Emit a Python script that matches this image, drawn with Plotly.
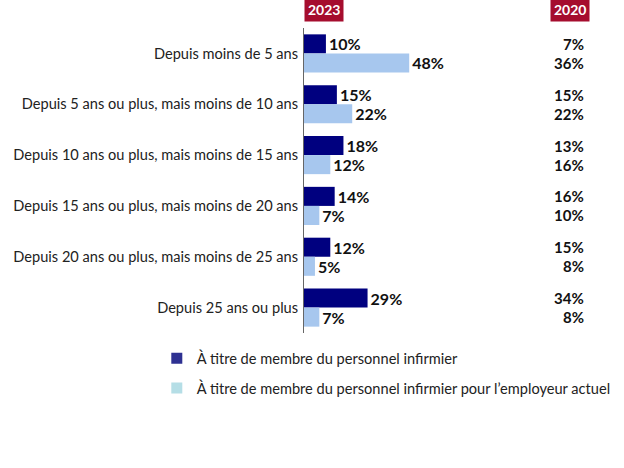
import plotly.graph_objects as go

categories = [
    "Depuis moins de 5 ans",
    "Depuis 5 ans ou plus, mais moins de 10 ans",
    "Depuis 10 ans ou plus, mais moins de 15 ans",
    "Depuis 15 ans ou plus, mais moins de 20 ans",
    "Depuis 20 ans ou plus, mais moins de 25 ans",
    "Depuis 25 ans ou plus",
]
nursing_2023 = [10, 15, 18, 14, 12, 29]
employer_2023 = [48, 22, 12, 7, 5, 7]
nursing_2020 = [7, 15, 13, 16, 15, 34]
employer_2020 = [36, 22, 16, 10, 8, 8]
series_names = [
    "À titre de membre du personnel infirmier",
    "À titre de membre du personnel infirmier pour l’employeur actuel",
]
year_labels = ["2023", "2020"]

DARK = "#00007F"
LIGHT = "#A7C7EE"
LEG_DARK = "#2E3192"
LEG_LIGHT = "#B5DEE6"
CRIMSON = "#A50D2E"
FONT = "Lato"

fig = go.Figure()
for vals, col in [(nursing_2023, DARK), (employer_2023, LIGHT)]:
    fig.add_trace(go.Bar(
        y=categories, x=vals, orientation="h",
        marker=dict(color=col, line=dict(width=0)),
        text=[f"<b>{v}%</b>" for v in vals], textposition="outside",
        textfont=dict(family=FONT, size=16, color="#111"),
        constraintext="none",
        cliponaxis=False, showlegend=False, hoverinfo="skip",
    ))

# legend-only entries
for i, (name, col) in enumerate(zip(series_names, [LEG_DARK, LEG_LIGHT])):
    fig.add_trace(go.Scatter(
        y=[None], x=[None], mode="markers", name=name,
        marker=dict(color=col, symbol="square", size=11),
        legendgroup=f"g{i}", showlegend=True,
    ))

half = 0.75 / 4
for i in range(len(categories)):
    for v, off in [(nursing_2020[i], -half), (employer_2020[i], half)]:
        fig.add_annotation(
            x=0.88, xref="paper", y=i + off, yref="y",
            text=f"<b>{v}%</b>", showarrow=False, xanchor="right",
            font=dict(family=FONT, size=15, color="#111"),
        )

# year headers
for label, xc in [(year_labels[0], 0.0), (year_labels[1], 0.768)]:
    fig.add_annotation(
        x=xc, xref="paper", y=1.0, yref="paper", yanchor="bottom", yshift=6,
        xanchor="left", text=f"<b>{label}</b>", showarrow=False,
        font=dict(family=FONT, size=14, color="white"),
        bgcolor=CRIMSON, borderpad=3,
    )

fig.update_layout(
    width=624, height=468,
    margin=dict(l=304, r=0, t=28, b=135, autoexpand=False),
    paper_bgcolor="white", plot_bgcolor="white",
    barmode="group", bargap=0.25, bargroupgap=0,
    font=dict(family=FONT, size=13, color="#222"),
    xaxis=dict(range=[0, 146], visible=False, fixedrange=True),
    yaxis=dict(autorange="reversed", showline=True, linecolor="#666",
               linewidth=1, ticks="", showgrid=False, ticklabelstandoff=2,
               automargin=False,
               tickfont=dict(family=FONT, size=14.6, color="#222")),
    legend=dict(x=-0.46, xanchor="left", y=-0.03, yanchor="top",
                traceorder="grouped", tracegroupgap=8,
                font=dict(family=FONT, size=14.6, color="#222"),
                bgcolor="rgba(0,0,0,0)"),
)

fig.write_html(
    "out.html",
    config={"displayModeBar": False},
    post_script="document.body.style.margin='0';document.body.style.padding='0';",
)
